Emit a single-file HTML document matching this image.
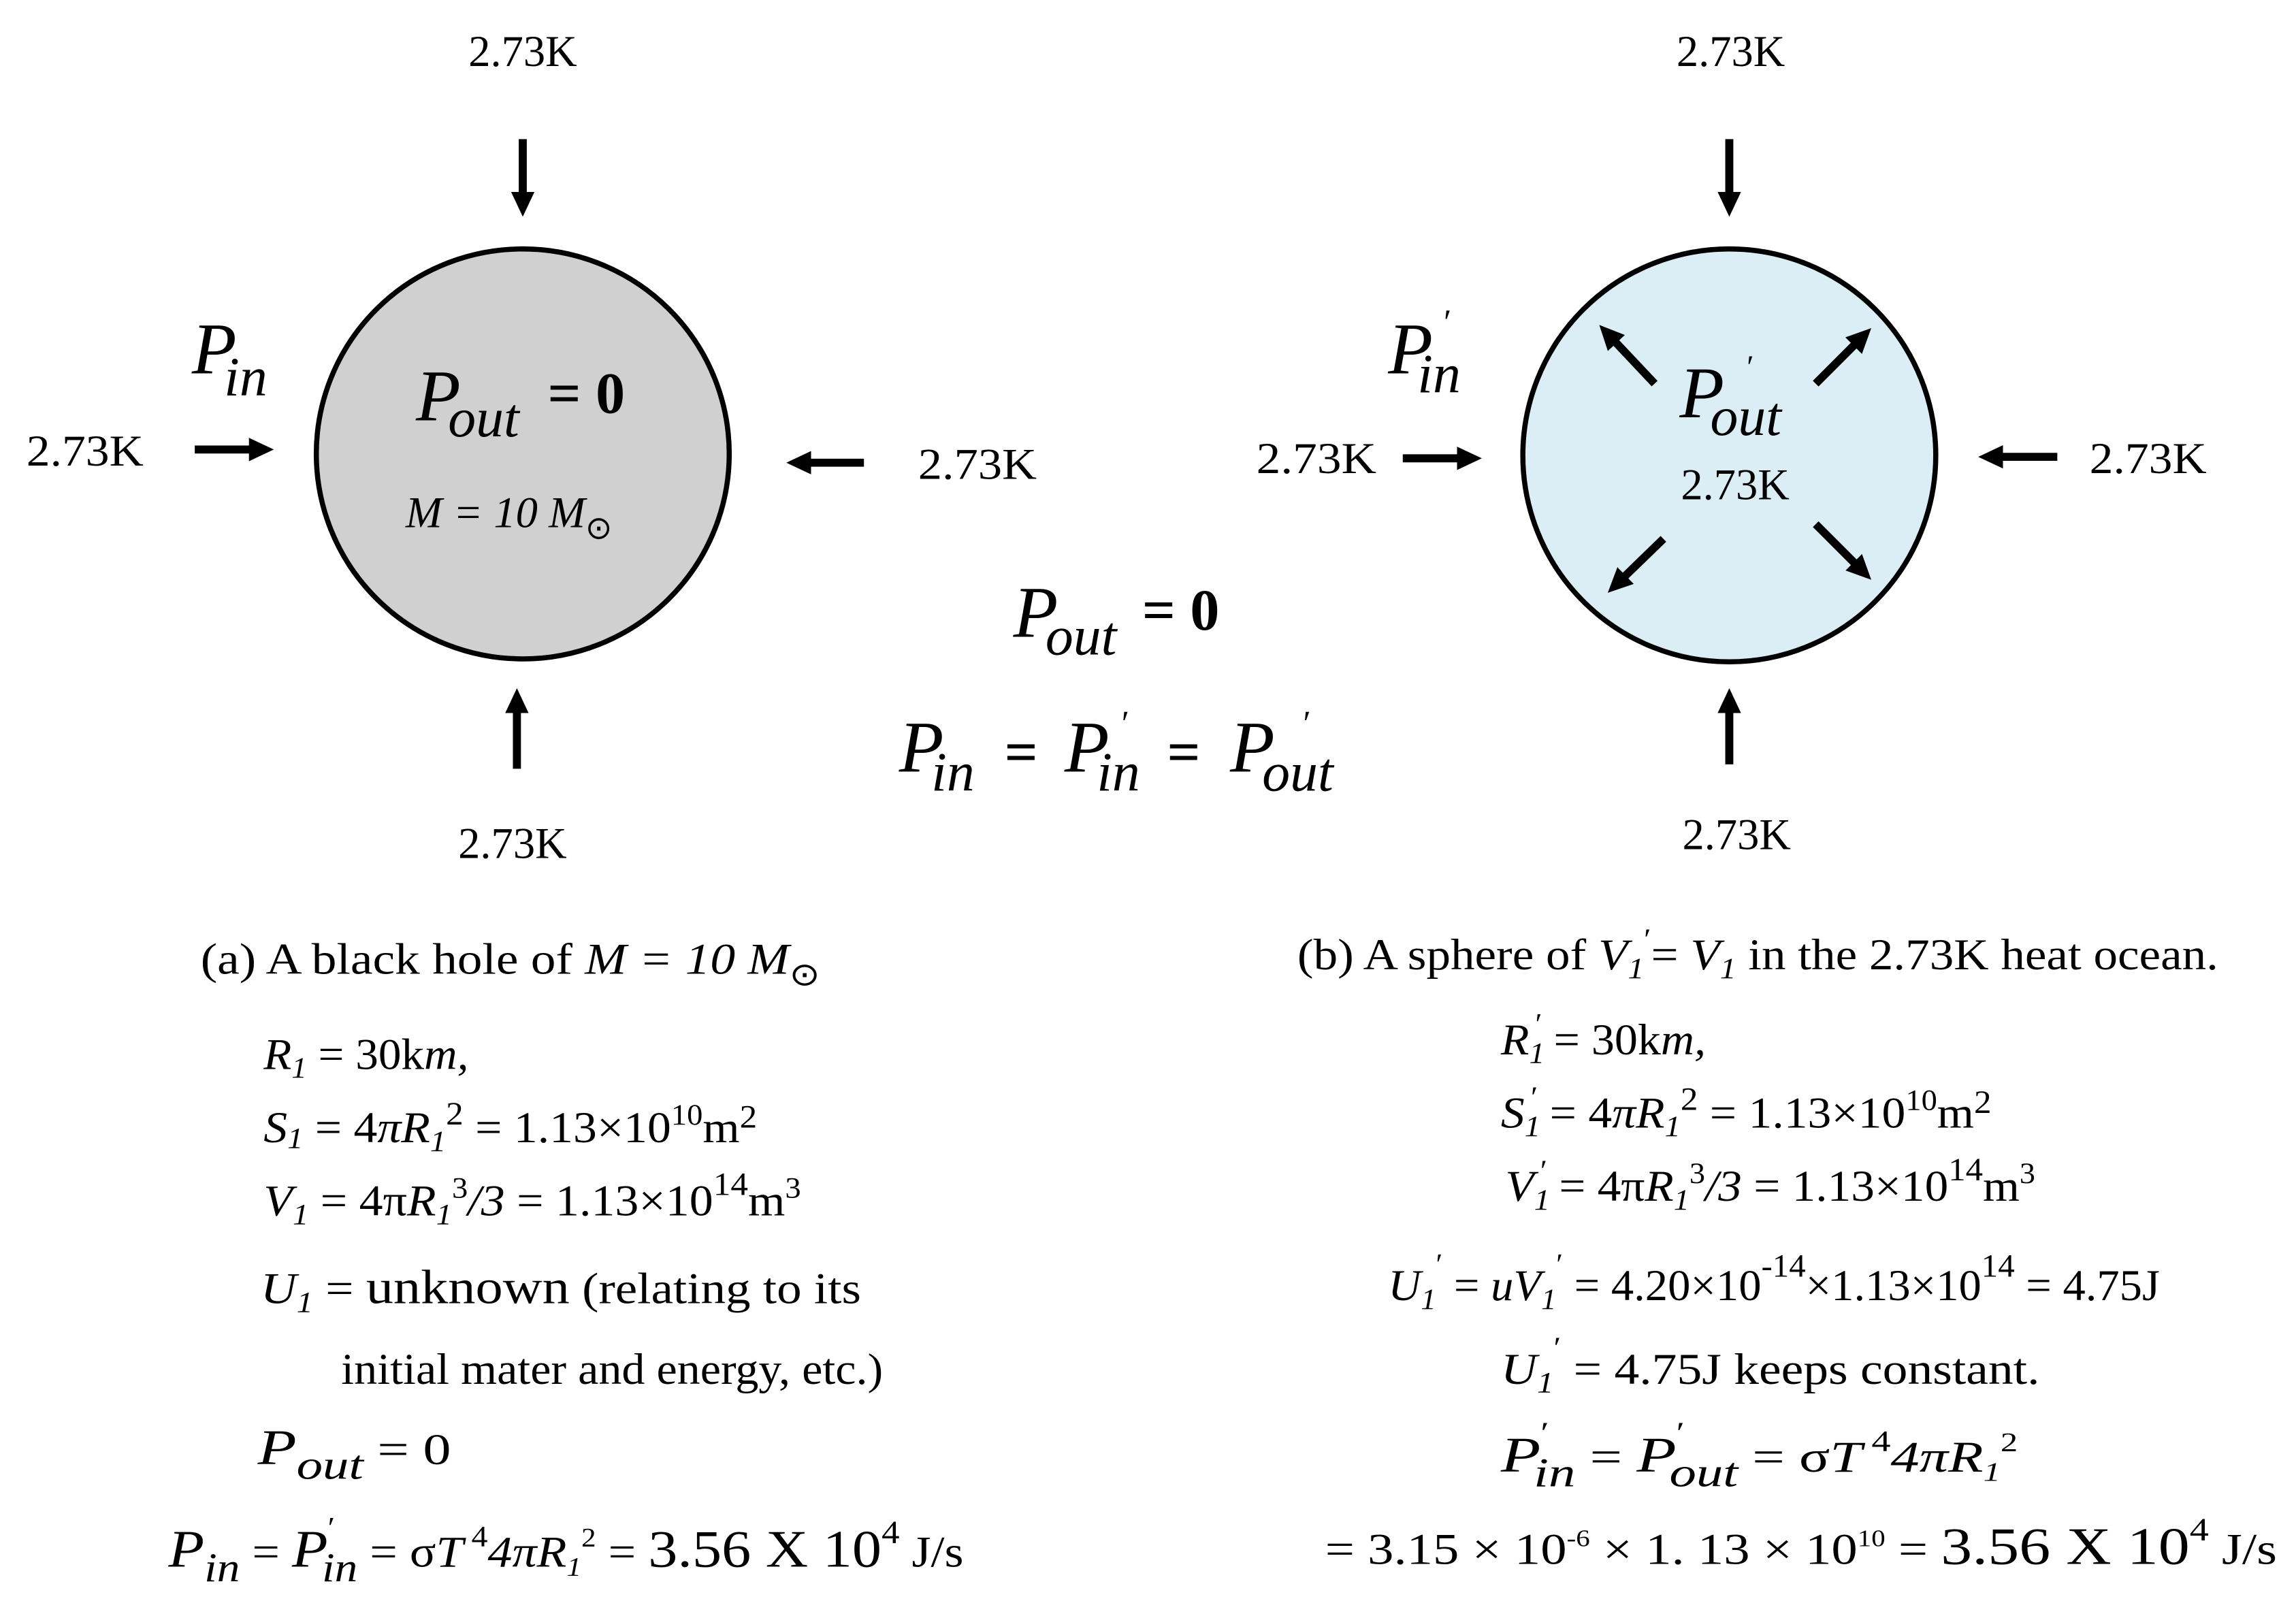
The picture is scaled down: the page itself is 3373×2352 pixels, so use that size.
<!DOCTYPE html>
<html><head><meta charset="utf-8"><style>
html,body{margin:0;padding:0;background:#fff;}
svg{display:block;}
text{font-family:"Liberation Serif",serif;fill:#000;}
.i{font-style:italic;}
.sun{font-family:"DejaVu Sans",sans-serif;font-style:normal;}
</style></head><body>
<svg width="3373" height="2352" viewBox="0 0 1568 1093.4" xmlns="http://www.w3.org/2000/svg">
<defs>
<marker id="ah" markerWidth="20" markerHeight="20" refX="10" refY="8" orient="auto" markerUnits="userSpaceOnUse">
<path d="M0,0 L17,8 L0,16 Z" fill="#000"/>
</marker>
</defs>
<ellipse cx="357" cy="310" rx="141" ry="140" fill="#d0d0d0" stroke="#000" stroke-width="3.5"/>
<circle cx="1181" cy="311" r="141" fill="#dbeef5" stroke="#000" stroke-width="3.5"/>
<g stroke="#000" stroke-width="5.5" marker-end="url(#ah)" fill="none">
<line x1="357" y1="95" x2="357" y2="141"/>
<line x1="353" y1="525" x2="353" y2="477"/>
<line x1="133" y1="307" x2="180" y2="307"/>
<line x1="590" y1="316" x2="544" y2="316"/>
<line x1="1181" y1="95" x2="1181" y2="141"/>
<line x1="1181" y1="522" x2="1181" y2="477"/>
<line x1="958" y1="313" x2="1005" y2="313"/>
<line x1="1405" y1="312" x2="1358" y2="312"/>
<line x1="1130" y1="262" x2="1097" y2="227"/>
<line x1="1240" y1="262" x2="1273" y2="229"/>
<line x1="1136" y1="368" x2="1103" y2="400"/>
<line x1="1240" y1="358" x2="1273" y2="391"/>
</g>
<g font-size="30">
<text x="357" y="45" text-anchor="middle">2.73K</text>
<text x="18" y="318" textLength="80" lengthAdjust="spacingAndGlyphs">2.73K</text>
<text x="627" y="327" textLength="81" lengthAdjust="spacingAndGlyphs">2.73K</text>
<text x="350" y="586" text-anchor="middle">2.73K</text>
<text x="1182" y="45" text-anchor="middle">2.73K</text>
<text x="858" y="323" textLength="82" lengthAdjust="spacingAndGlyphs">2.73K</text>
<text x="1427" y="323" textLength="80" lengthAdjust="spacingAndGlyphs">2.73K</text>
<text x="1186" y="580" text-anchor="middle">2.73K</text>
<text x="1185" y="341" text-anchor="middle">2.73K</text>
</g>
<text x="131" y="255" class="i" font-size="50">P</text>
<text x="153" y="270" class="i" font-size="38">in</text>
<text x="948" y="255" class="i" font-size="50">P</text>
<text x="986" y="228" font-size="24">′</text>
<text x="968" y="268" class="i" font-size="38">in</text>
<text x="284" y="287" class="i" font-size="50">P</text>
<text x="306" y="298" class="i" font-size="38">out</text>
<text x="374" y="282" font-size="40" font-weight="bold">= 0</text>
<text x="277" y="360" class="i" font-size="30">M = 10 M<tspan class="sun" font-size="22" dy="8">⊙</tspan></text>
<text x="1147" y="285" class="i" font-size="50">P</text>
<text x="1193" y="258" font-size="22">′</text>
<text x="1168" y="297" class="i" font-size="38">out</text>
<text x="692" y="435" class="i" font-size="50">P</text>
<text x="714" y="447" class="i" font-size="38">out</text>
<text x="780" y="430" font-size="40" font-weight="bold">= 0</text>
<text x="614" y="527" class="i" font-size="50">P</text>
<text x="636" y="540" class="i" font-size="38">in</text>
<text x="686" y="527" font-size="40" font-weight="bold">=</text>
<text x="727" y="527" class="i" font-size="50">P</text>
<text x="766" y="502" font-size="24">′</text>
<text x="749" y="540" class="i" font-size="38">in</text>
<text x="797" y="527" font-size="40" font-weight="bold">=</text>
<text x="840" y="527" class="i" font-size="50">P</text>
<text x="890" y="502" font-size="24">′</text>
<text x="862" y="540" class="i" font-size="38">out</text>
<g font-size="30">
<text x="137" y="665" textLength="423" lengthAdjust="spacingAndGlyphs">(a)  A black hole of <tspan class="i">M = 10 M</tspan><tspan class="sun" font-size="22" dy="8">⊙</tspan></text>
<text x="180" y="730" textLength="140" lengthAdjust="spacingAndGlyphs"><tspan class="i">R</tspan><tspan class="i" font-size="20" dy="6">1</tspan><tspan dy="-6"> = 30k</tspan><tspan class="i">m,</tspan></text>
<text x="180" y="780" textLength="337" lengthAdjust="spacingAndGlyphs"><tspan class="i">S</tspan><tspan class="i" font-size="20" dy="4">1</tspan><tspan dy="-4"> = 4</tspan><tspan class="i">πR</tspan><tspan class="i" font-size="20" dy="6">1</tspan><tspan font-size="22" dy="-18">2</tspan><tspan dy="12"> = 1.13×10</tspan><tspan font-size="20" dy="-12">10</tspan><tspan dy="12">m</tspan><tspan font-size="22" dy="-10">2</tspan></text>
<text x="180" y="830" textLength="367" lengthAdjust="spacingAndGlyphs"><tspan class="i">V</tspan><tspan class="i" font-size="20" dy="6">1</tspan><tspan dy="-6"> = 4π</tspan><tspan class="i">R</tspan><tspan class="i" font-size="20" dy="6">1</tspan><tspan font-size="20" dy="-18">3</tspan><tspan dy="12" class="i">/3</tspan><tspan> = 1.13×10</tspan><tspan font-size="22" dy="-14">14</tspan><tspan dy="14">m</tspan><tspan font-size="20" dy="-12">3</tspan></text>
<text x="178" y="890" textLength="410" lengthAdjust="spacingAndGlyphs"><tspan class="i">U</tspan><tspan class="i" font-size="20" dy="6">1</tspan><tspan dy="-6"> =  </tspan><tspan font-size="33">unknown</tspan><tspan>  (relating to its</tspan></text>
<text x="233" y="945" textLength="370" lengthAdjust="spacingAndGlyphs">initial mater and energy, etc.)</text>
<text x="176" y="1000" textLength="132" lengthAdjust="spacingAndGlyphs"><tspan class="i" font-size="34">P</tspan><tspan class="i" font-size="28" dy="10">out</tspan><tspan dy="-10">   =  0</tspan></text>
<text x="115" y="1070" textLength="543" lengthAdjust="spacingAndGlyphs"><tspan class="i" font-size="36">P</tspan><tspan class="i" font-size="28" dy="10">in</tspan><tspan dy="-10"> = </tspan><tspan class="i" font-size="36">P</tspan><tspan font-size="20" dy="-20">′</tspan><tspan class="i" font-size="28" dx="-8" dy="30">in</tspan><tspan dy="-10"> = σ</tspan><tspan class="i">T</tspan><tspan font-size="20" dy="-14"> 4</tspan><tspan class="i" dy="14">4πR</tspan><tspan class="i" font-size="18" dy="6">1</tspan><tspan font-size="18" dy="-20">2</tspan><tspan dy="14"> = </tspan><tspan font-size="36">3.56 X 10</tspan><tspan font-size="22" dy="-16">4</tspan><tspan font-size="30" dy="16"> J/s</tspan></text>
</g>
<g font-size="30">
<text x="886" y="662" textLength="629" lengthAdjust="spacingAndGlyphs">(b)  A sphere of <tspan class="i">V</tspan><tspan class="i" font-size="20" dy="6">1</tspan><tspan font-size="20" dy="-20">′</tspan><tspan dy="14">= </tspan><tspan class="i">V</tspan><tspan class="i" font-size="20" dy="6">1</tspan><tspan dy="-6"> in the 2.73K heat ocean.</tspan></text>
<text x="1025" y="720" textLength="140" lengthAdjust="spacingAndGlyphs"><tspan class="i">R</tspan><tspan class="i" font-size="20" dy="6">1</tspan><tspan font-size="20" dy="-20" dx="-6">′</tspan><tspan dy="14"> = 30k</tspan><tspan class="i">m,</tspan></text>
<text x="1025" y="770" textLength="335" lengthAdjust="spacingAndGlyphs"><tspan class="i">S</tspan><tspan class="i" font-size="20" dy="6">1</tspan><tspan font-size="20" dy="-20" dx="-6">′</tspan><tspan dy="14"> = 4</tspan><tspan class="i">πR</tspan><tspan class="i" font-size="20" dy="6">1</tspan><tspan font-size="22" dy="-18">2</tspan><tspan dy="12"> = 1.13×10</tspan><tspan font-size="20" dy="-12">10</tspan><tspan dy="12">m</tspan><tspan font-size="22" dy="-10">2</tspan></text>
<text x="1028" y="820" textLength="362" lengthAdjust="spacingAndGlyphs"><tspan class="i">V</tspan><tspan class="i" font-size="20" dy="6">1</tspan><tspan font-size="20" dy="-20" dx="-6">′</tspan><tspan dy="14"> = 4π</tspan><tspan class="i">R</tspan><tspan class="i" font-size="20" dy="6">1</tspan><tspan font-size="20" dy="-18">3</tspan><tspan dy="12" class="i">/3</tspan><tspan> = 1.13×10</tspan><tspan font-size="22" dy="-14">14</tspan><tspan dy="14">m</tspan><tspan font-size="20" dy="-12">3</tspan></text>
<text x="948" y="888" textLength="527" lengthAdjust="spacingAndGlyphs"><tspan class="i">U</tspan><tspan class="i" font-size="20" dy="6">1</tspan><tspan font-size="20" dy="-24">′</tspan><tspan dy="18"> = </tspan><tspan class="i">uV</tspan><tspan class="i" font-size="20" dy="6">1</tspan><tspan font-size="20" dy="-24">′</tspan><tspan dy="18"> = 4.20×10</tspan><tspan font-size="22" dy="-16">-14</tspan><tspan dy="16">×1.13×10</tspan><tspan font-size="22" dy="-16">14</tspan><tspan dy="16"> = 4.75J</tspan></text>
<text x="1025" y="945" textLength="368" lengthAdjust="spacingAndGlyphs"><tspan class="i">U</tspan><tspan class="i" font-size="20" dy="6">1</tspan><tspan font-size="20" dy="-24">′</tspan><tspan dy="18"> = 4.75J    keeps constant.</tspan></text>
<text x="1025" y="1005" textLength="353" lengthAdjust="spacingAndGlyphs"><tspan class="i" font-size="34">P</tspan><tspan font-size="20" dy="-20">′</tspan><tspan class="i" font-size="28" dx="-8" dy="30">in</tspan><tspan dy="-10">  =  </tspan><tspan class="i" font-size="34">P</tspan><tspan font-size="20" dy="-20">′</tspan><tspan class="i" font-size="28" dx="-8" dy="30">out</tspan><tspan dy="-10">  = σ</tspan><tspan class="i">T</tspan><tspan font-size="20" dy="-14"> 4</tspan><tspan class="i" dy="14">4πR</tspan><tspan class="i" font-size="18" dy="6">1</tspan><tspan font-size="18" dy="-20">2</tspan></text>
<text x="905" y="1068" textLength="650" lengthAdjust="spacingAndGlyphs"><tspan>=  3.15 × 10</tspan><tspan font-size="16" dy="-12">-6</tspan><tspan dy="12"> × 1. 13 × 10</tspan><tspan font-size="16" dy="-12">10</tspan><tspan dy="12">  = </tspan><tspan font-size="36">3.56 X 10</tspan><tspan font-size="22" dy="-16">4</tspan><tspan dy="16"> J/s</tspan></text>
</g>
</svg>
</body></html>
